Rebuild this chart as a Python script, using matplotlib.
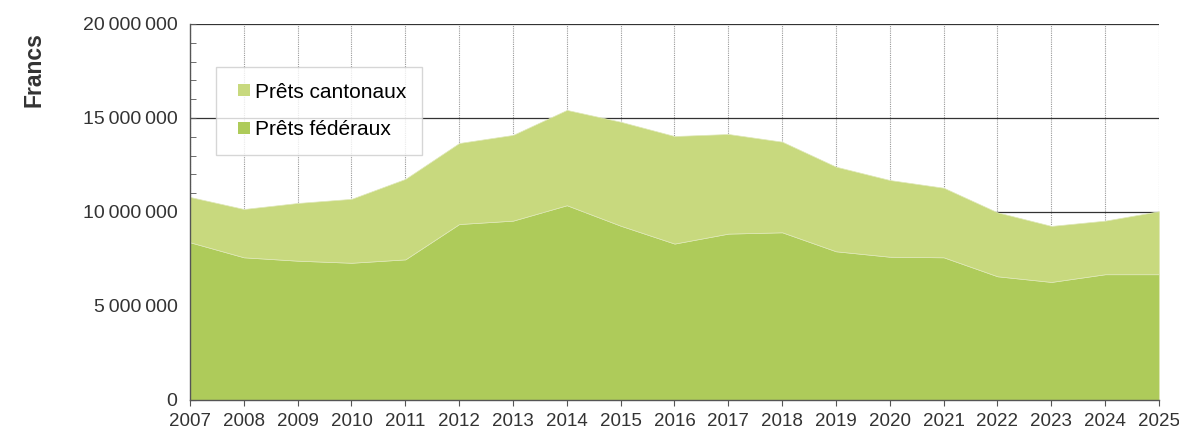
import numpy as np
import matplotlib as mpl
import matplotlib.pyplot as plt
from matplotlib.ticker import FuncFormatter, MultipleLocator
from matplotlib.lines import Line2D

mpl.rcParams['font.family'] = ['Liberation Sans', 'DejaVu Sans']

# Données (francs)
annees = list(range(2007, 2026))
prets_federaux = [8.39, 7.59, 7.41, 7.30, 7.48, 9.36, 9.54, 10.36, 9.27, 8.32,
                  8.85, 8.92, 7.91, 7.62, 7.59, 6.58, 6.28, 6.69, 6.69]
total_prets = [10.80, 10.16, 10.48, 10.70, 11.76, 13.67, 14.10, 15.43, 14.80, 14.04,
               14.15, 13.74, 12.41, 11.70, 11.29, 9.98, 9.26, 9.54, 10.04]

federaux = np.array(prets_federaux) * 1e6
cantonaux = np.array(total_prets) * 1e6 - federaux

c_fed = '#AECB5A'
c_cant = '#C8D97E'

fig = plt.figure(figsize=(11.79, 4.28), dpi=100)
ax = fig.add_axes([190 / 1179, 28 / 428, 969 / 1179, 376 / 428])

# grille horizontale derrière les aires, verticale pointillée
ax.set_axisbelow(True)
ax.yaxis.grid(True, color='#333333', lw=0.9, zorder=0)
for a in annees:
    ax.axvline(a, color='#999999', lw=0.8, ls=(0, (1, 1)), zorder=0)

ax.stackplot(annees, federaux, cantonaux, colors=[c_fed, c_cant], zorder=2,
             edgecolor='#dfe8b8', linewidth=0.5)

ax.set_xlim(2007, 2025)
ax.set_ylim(0, 20e6)
ax.set_xticks(annees)
ax.yaxis.set_major_locator(MultipleLocator(5e6))
ax.yaxis.set_minor_locator(MultipleLocator(1e6))
ax.yaxis.set_major_formatter(FuncFormatter(lambda v, p: f'{int(v):,}'.replace(',', '\u2009')))

for s in ['top', 'right']:
    ax.spines[s].set_visible(False)
for s in ['left', 'bottom']:
    ax.spines[s].set_color('#555555')
    ax.spines[s].set_linewidth(1.0)

ax.tick_params(axis='y', which='both', direction='in', length=4, color='#555555',
               labelsize=14, labelcolor='#333333', pad=9)
ax.tick_params(axis='x', direction='out', length=4, color='#555555',
               labelsize=13.5, labelcolor='#333333', pad=5)

fig.text(34 / 1179, 1 - 70 / 428, 'Francs', rotation=90, ha='center', va='center',
         fontsize=16.5, fontweight='bold', color='#333333')

handles = [Line2D([], [], ls='none', marker='s', ms=8.3, mew=0, color=c_cant, label='Prêts cantonaux'),
           Line2D([], [], ls='none', marker='s', ms=8.3, mew=0, color=c_fed, label='Prêts fédéraux')]
leg = ax.legend(handles=handles, loc='upper left', bbox_to_anchor=(26 / 969, 1 - 43 / 376),
                fontsize=15, frameon=True, fancybox=False, edgecolor='#cccccc',
                handlelength=1.2, handletextpad=-0.1,
                labelspacing=0.9, borderpad=0.75, borderaxespad=0)
leg.get_frame().set_linewidth(1.0)
leg.set_zorder(5)

plt.savefig('out.png', dpi=100)
